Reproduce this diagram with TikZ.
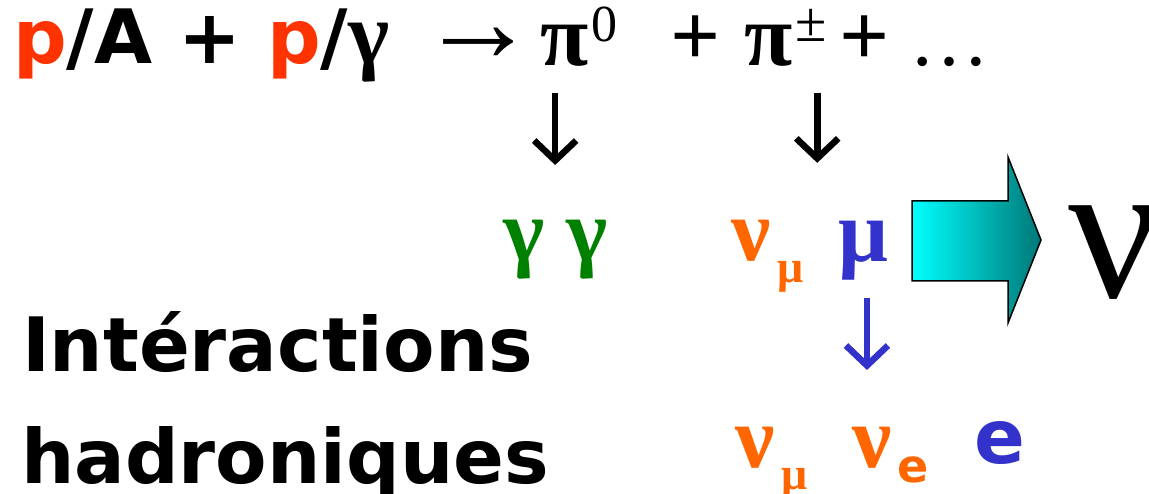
\documentclass[tikz,border=0pt]{standalone}
\usepackage{fontspec}
\setmainfont{DejaVu Sans}
\newfontfamily\sym{Liberation Serif}
\usetikzlibrary{arrows.meta,calc}
\definecolor{pred}{HTML}{FF3300}
\definecolor{nuor}{HTML}{FF6600}
\definecolor{ggreen}{HTML}{008000}
\definecolor{mublue}{HTML}{3333CC}
\definecolor{cyanl}{HTML}{00FFFF}
\definecolor{tealr}{HTML}{007777}
\newcommand{\gsz}{\fontsize{88}{88}\selectfont\sym\bfseries}
\newcommand{\ssz}{\fontsize{75}{75}\selectfont\bfseries}
\newcommand{\subg}[1]{\kern7pt\raisebox{-22pt}{\fontsize{46}{46}\selectfont\sym\bfseries #1}}
\newcommand{\subs}[1]{\kern6pt\raisebox{-15pt}{\fontsize{46}{46}\selectfont\rmfamily\bfseries #1}}
\newcommand{\supg}[2][52]{\kern3pt\raisebox{24pt}{\fontsize{#1}{#1}\selectfont\sym\mdseries #2}}
\begin{document}
\begin{tikzpicture}[x=1pt,y=1pt,
  every node/.style={inner sep=0pt,outer sep=0pt,anchor=base west},
  sanstxt/.style={font=\ssz},
  greek/.style={font=\gsz},
  darr/.style={line width=6.5pt,-{Straight Barb[length=20pt,width=42pt]}}]
\useasboundingbox (0,0) rectangle (1149,-494);
\clip (0,0) rectangle (1149,-494);
% top line
\node[sanstxt] (react) at (13,-64) {\textcolor{pred}{p}/A + \textcolor{pred}{p}/{\gsz γ}};
\node[font=\fontsize{118}{118}\selectfont\sym\bfseries] (to) at (419,-62) {→};
\node[greek] (pi0) at (540,-66) {π\supg{0}};
\node[greek] (plus1) at (670,-66) {+};
\node[greek] (pipm) at (744,-66) {π\supg[57]{±}};
\node[greek] (plus2) at (839,-66) {+};
\node[font=\fontsize{80}{80}\selectfont\sym] (dots) at (909,-66) {…};
% middle row
\node[greek,text=ggreen] (gg) at (503,-261) {γ γ};
\node[greek,text=nuor] (numu) at (731,-261) {ν\subg{μ}};
\node[greek,text=mublue] (mu) at (838,-262) {μ};
\node[font=\fontsize{200}{200}\selectfont\sym] (bignu) at (1068,-298) {ν};
% bottom row
\node[greek,text=nuor] (numu2) at (735,-467) {ν\subg{μ}};
\node[greek,text=nuor] (nue) at (852,-467) {ν\subs{e}};
\node[sanstxt,text=mublue] (e) at (974,-463) {e};
% left text
\node[sanstxt] (l1) at (22,-372) {Intéractions};
\node[sanstxt] (l2) at (21,-483) {hadroniques};
% connectors
\draw[darr] (gg.north |- pi0.south) ++(0,-26) -- (gg.north |- 0,-165);
\draw[darr] ([xshift=32pt]pipm.south |- pi0.south) ++(0,-26) -- ++(0,-70);
\draw[darr,mublue] ([xshift=4pt]mu.south |- 0,-298) -- ([xshift=4pt]mu.south |- 0,-370);
% big arrow
\shade[left color=cyanl,right color=tealr,draw=black,line width=1.5pt,line join=miter]
  (912,-201) -- (1008,-201) -- (1008,-157) -- (1041,-240) -- (1008,-323) -- (1008,-281) -- (912,-281) -- cycle;
\end{tikzpicture}
\end{document}
